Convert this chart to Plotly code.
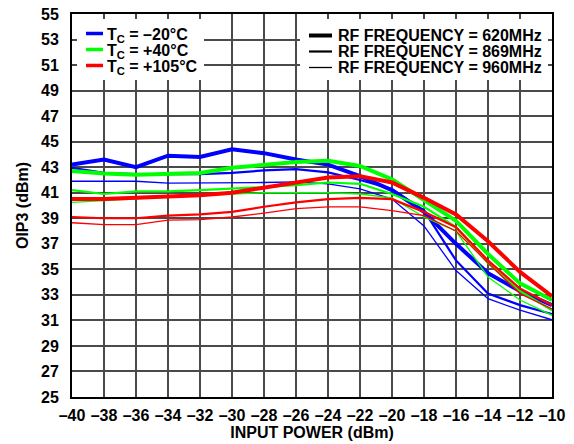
import plotly.graph_objects as go

# ---------------- data ----------------
input_power = [-40, -38, -36, -34, -32, -30, -28, -26, -24, -22, -20, -18, -16, -14, -12, -10]
x_tick_labels = ["–40", "–38", "–36", "–34", "–32", "–30", "–28", "–26", "–24",
                 "–22", "–20", "–18", "–16", "–14", "–12", "–10"]
y_ticks = [25, 27, 29, 31, 33, 35, 37, 39, 41, 43, 45, 47, 49, 51, 53, 55]

# TC = -20C
oip3_m20_620 = [43.2, 43.6, 43.0, 43.9, 43.8, 44.4, 44.1, 43.6, 43.2, 42.3, 41.2, 39.5, 37.0, 34.7, 33.3, 32.2]
oip3_m20_869 = [42.95, 42.55, 42.45, 42.45, 42.45, 42.55, 42.75, 42.85, 42.6, 42.0, 41.3, 39.6, 35.7, 33.1, 32.2, 31.5]
oip3_m20_960 = [41.9, 41.9, 41.9, 41.75, 41.75, 41.75, 41.8, 41.85, 41.7, 41.3, 40.5, 38.4, 34.9, 32.7, 31.8, 31.05]
# TC = +40C
oip3_p40_620 = [42.7, 42.5, 42.4, 42.5, 42.55, 42.95, 43.2, 43.4, 43.5, 43.1, 42.05, 40.4, 38.8, 36.2, 33.9, 32.6]
oip3_p40_869 = [41.2, 40.9, 41.1, 41.1, 41.2, 41.3, 41.45, 41.6, 41.8, 41.7, 40.9, 39.9, 38.3, 35.5, 33.3, 31.8]
oip3_p40_960 = [40.25, 40.4, 40.55, 40.7, 40.8, 40.9, 41.0, 41.0, 41.0, 40.9, 40.6, 39.1, 38.0, 34.4, 32.6, 31.4]
# TC = +105C
oip3_p105_620 = [40.5, 40.5, 40.6, 40.7, 40.8, 41.0, 41.4, 41.75, 42.2, 42.3, 41.8, 40.6, 39.3, 37.2, 34.8, 32.9]
oip3_p105_869 = [39.1, 39.0, 39.0, 39.2, 39.3, 39.5, 39.9, 40.25, 40.5, 40.6, 40.5, 39.5, 38.3, 35.7, 33.5, 32.2]
oip3_p105_960 = [38.65, 38.5, 38.5, 38.85, 38.9, 39.1, 39.4, 39.75, 39.9, 39.9, 39.6, 39.2, 38.0, 35.5, 33.1, 31.9]

temp_labels = ["T<sub>C</sub> = –20°C", "T<sub>C</sub> = +40°C", "T<sub>C</sub> = +105°C"]
freq_labels = ["RF FREQUENCY = 620MHz", "RF FREQUENCY = 869MHz", "RF FREQUENCY = 960MHz"]

# ---------------- style ----------------
FONT = "Liberation Sans, Arial, Helvetica, sans-serif"
FS = 16
temp_colors = ["#0000ff", "#00ff00", "#ff0000"]
freq_widths = [4, 2.2, 1.3]

series = [
    [oip3_m20_620, oip3_m20_869, oip3_m20_960],
    [oip3_p40_620, oip3_p40_869, oip3_p40_960],
    [oip3_p105_620, oip3_p105_869, oip3_p105_960],
]

fig = go.Figure()
for ti, group in enumerate(series):
    for fi, ys in enumerate(group):
        fig.add_trace(go.Scatter(
            x=input_power, y=ys, mode="lines",
            name=f"{temp_labels[ti]}, {freq_labels[fi]}",
            line=dict(color=temp_colors[ti], width=freq_widths[fi]),
            showlegend=False,
        ))

# plot area geometry in screen pixels (page body margin removed below)
FIG_W, FIG_H = 574, 444
L, R, T, B = 72, 552, 14, 397
W, H = R - L, B - T


def dx(px):
    return (px - L) / W


def dy(py):
    return (B - py) / H


shapes = []
annotations = []
bold = dict(family=FONT, size=FS, color="black", weight="bold")

# legend background boxes
shapes.append(dict(type="rect", xref="x domain", yref="y domain",
                   x0=dx(77), x1=dx(204), y0=dy(80), y1=dy(19),
                   fillcolor="white", line=dict(width=0), layer="above"))
shapes.append(dict(type="rect", xref="x domain", yref="y domain",
                   x0=dx(300), x1=dx(548), y0=dy(80), y1=dy(19),
                   fillcolor="white", line=dict(width=0), layer="above"))

# temperature legend
rows_t = [33.5, 49.5, 65.5]
for i in range(3):
    shapes.append(dict(type="line", xref="x domain", yref="y domain",
                       x0=dx(86), x1=dx(103), y0=dy(rows_t[i]), y1=dy(rows_t[i]),
                       line=dict(color=temp_colors[i], width=3.5), layer="above"))
    annotations.append(dict(xref="x domain", yref="y domain", x=dx(105), y=dy(rows_t[i] + 2),
                            xanchor="left", yanchor="middle", showarrow=False,
                            text=temp_labels[i], font=bold))

# frequency legend
rows_f = [35.5, 51.5, 67.5]
for i in range(3):
    shapes.append(dict(type="line", xref="x domain", yref="y domain",
                       x0=dx(309), x1=dx(332), y0=dy(rows_f[i]), y1=dy(rows_f[i]),
                       line=dict(color="black", width=freq_widths[i]), layer="above"))
    annotations.append(dict(xref="x domain", yref="y domain", x=dx(336), y=dy(rows_f[i]),
                            xanchor="left", yanchor="middle", showarrow=False,
                            text=freq_labels[i], font=bold))

fig.update_layout(
    width=FIG_W, height=FIG_H,
    margin=dict(l=L, r=FIG_W - R, t=T, b=FIG_H - B, autoexpand=False),
    paper_bgcolor="white", plot_bgcolor="white",
    font=bold,
    shapes=shapes, annotations=annotations,
    showlegend=False,
)
fig.update_xaxes(
    range=[-40, -10], tickmode="array", tickvals=input_power, ticktext=x_tick_labels,
    showgrid=True, gridcolor="#4a4a4a", gridwidth=1.6,
    showline=True, linecolor="black", linewidth=2, mirror=True,
    ticks="", ticklabelstandoff=3, automargin=False, ticklabeloverflow="allow",
    tickfont=bold,
    title=dict(text="INPUT POWER (dBm)", standoff=4, font=bold),
    zeroline=False,
)
fig.update_yaxes(
    range=[25, 55], tickmode="array", tickvals=y_ticks,
    showgrid=True, gridcolor="#4a4a4a", gridwidth=1.6,
    showline=True, linecolor="black", linewidth=2, mirror=True,
    ticks="", ticklabelstandoff=8, automargin=False, ticklabeloverflow="allow",
    tickfont=bold,
    title=dict(text="OIP3 (dBm)", standoff=8, font=bold),
    zeroline=False,
)

# remove the browser's default 8px page margin so the figure fills the window
fig.write_html("out.html", config={"displayModeBar": False},
               post_script="document.body.style.margin='0px';")
